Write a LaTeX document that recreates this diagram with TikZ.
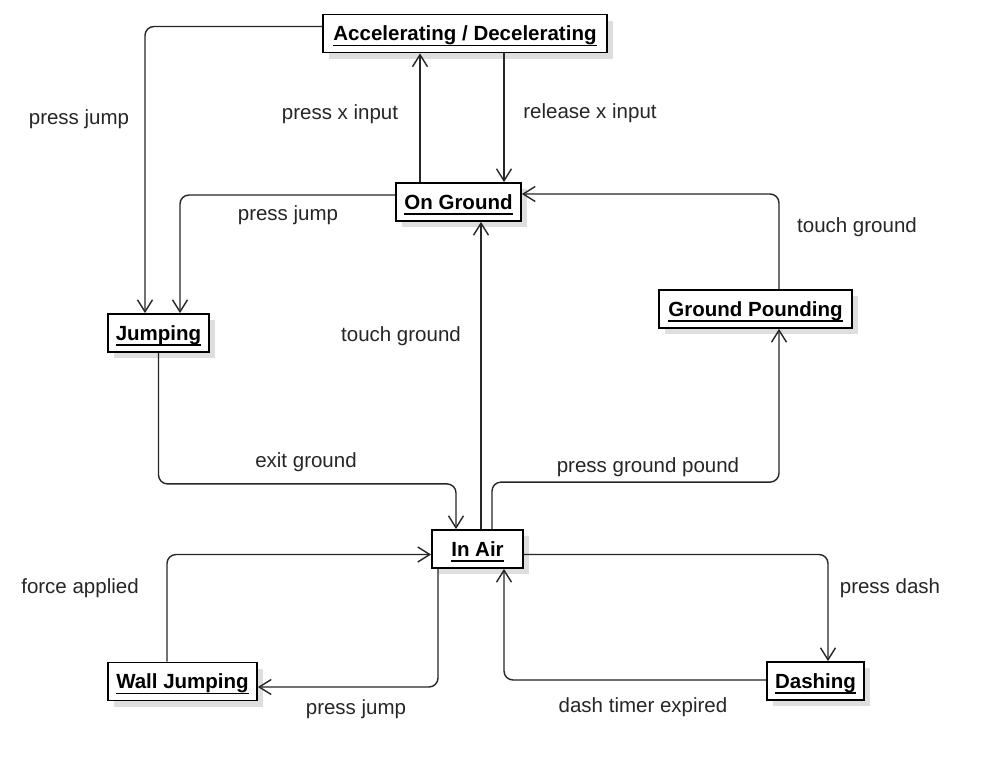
\documentclass[tikz,border=0pt]{standalone}
\usepackage{fontspec}
\setmainfont{Liberation Sans}
\usetikzlibrary{arrows.meta,shadows}
\newcommand{\ulbold}[1]{\setbox0=\hbox{\bfseries #1}\rlap{\raisebox{-5.5pt}[0pt][0pt]{\rule{\wd0}{1.5pt}}}\copy0}
\tikzset{
  state/.style={draw=black, line width=1.8pt, fill=white, inner sep=0pt,
    minimum height=38pt, text height=14.7pt, text depth=0pt,
    font=\fontsize{20.5}{24}\selectfont,
    drop shadow={shadow xshift=6pt, shadow yshift=-6pt, fill=black!13, opacity=1}},
  conn/.style={draw=black!85, line width=1.4pt, rounded corners=9pt,
    -{Straight Barb[length=12pt,width=15pt,line width=1.4pt]}},
  lbl/.style={font=\fontsize{20.5}{24}\selectfont, text=black!85, inner sep=1pt,
    text height=14.7pt, text depth=0pt}
}
\begin{document}
\begin{tikzpicture}[x=1pt,y=-1pt]
\useasboundingbox (0,0) rectangle (1006,777);
\fill[white] (0,0) rectangle (1006,777);
% states
\node[state, minimum width=284pt] (acc) at (465,33.5) {\ulbold{Accelerating / Decelerating}};
\node[state, minimum width=125pt] (og) at (458.5,202) {\ulbold{On Ground}};
\node[state, minimum width=101pt] (jmp) at (158.5,333) {\ulbold{Jumping}};
\node[state, minimum width=193pt] (gp) at (755.5,309) {\ulbold{Ground Pounding}};
\node[state, minimum width=91pt] (air) at (477.5,549) {\ulbold{In Air}};
\node[state, minimum width=149pt] (wj) at (182.5,681.5) {\ulbold{Wall Jumping}};
\node[state, minimum width=97pt] (dash) at (815.5,681) {\ulbold{Dashing}};
% connectors
\draw[conn] ([yshift=7pt]acc.west) -| ([xshift=-13.5pt]jmp.north);
\draw[conn] ([yshift=7pt]og.west) -| ([xshift=21.5pt]jmp.north);
\draw[conn] ([xshift=-38.5pt]og.north) -- ([xshift=-45pt]acc.south);
\draw[conn] ([xshift=39pt]acc.south) -- ([xshift=45.5pt]og.north);
\draw[conn] ([xshift=23.5pt]gp.north) |- ([yshift=8pt]og.east);
\draw[conn] ([xshift=3.5pt]air.north) -- ([xshift=22.5pt]og.south);
\draw[conn] (jmp.south) -- ++(0,131) -| ([xshift=-21.5pt]air.north);
\draw[conn] ([xshift=14.5pt]air.north) -- ++(0,-47) -| ([xshift=23.5pt]gp.south);
\draw[conn] ([xshift=-15.5pt]wj.north) |- ([yshift=-5.5pt]air.west);
\draw[conn] ([xshift=-39.5pt]air.south) |- ([yshift=-5.5pt]wj.east);
\draw[conn] ([yshift=-5.5pt]air.east) -| ([xshift=12.5pt]dash.north);
\draw[conn] ([yshift=1pt]dash.west) -| ([xshift=26.5pt]air.south);
% labels
\node[lbl] (l1) at (79,117) {press jump};
\node[lbl] (l2) at (288,213) {press jump};
\node[lbl] (l3) at (340,112) {press x input};
\node[lbl] (l4) at (590,111) {release x input};
\node[lbl] (l5) at (857,225) {touch ground};
\node[lbl] (l6) at (401,334) {touch ground};
\node[lbl] (l7) at (306,460) {exit ground};
\node[lbl] (l8) at (648,465) {press ground pound};
\node[lbl] (l9) at (80,586) {force applied};
\node[lbl] (l10) at (356,707) {press jump};
\node[lbl] (l11) at (890,586) {press dash};
\node[lbl] (l12) at (643,705) {dash timer expired};
\end{tikzpicture}
\end{document}
